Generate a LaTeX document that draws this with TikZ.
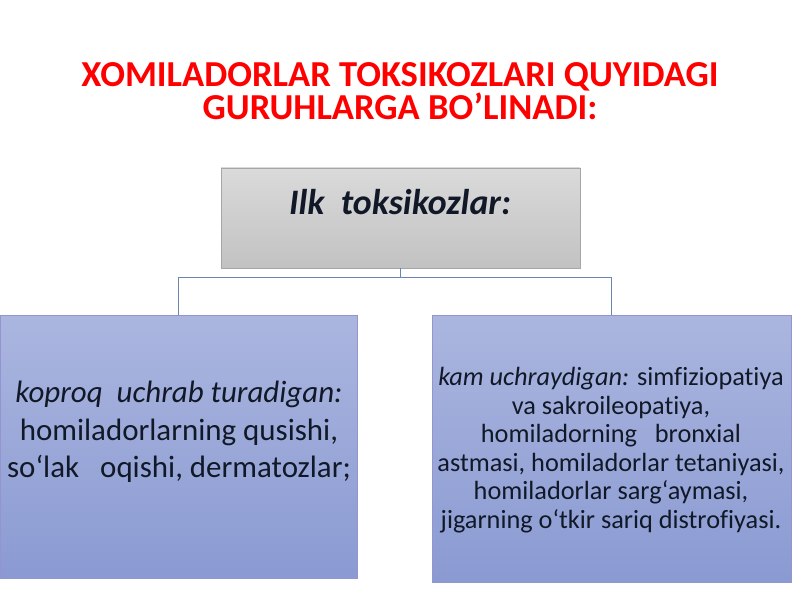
\documentclass[tikz,border=0pt]{standalone}
\usepackage{fontspec}
\setmainfont{Carlito}[Ligatures={TeX,NoCommon}]
\usetikzlibrary{positioning}
\definecolor{titlered}{HTML}{FF0000}
\definecolor{grayTop}{HTML}{DADADA}
\definecolor{grayBot}{HTML}{C2C2C2}
\definecolor{blueTop}{HTML}{ABB6DF}
\definecolor{blueBot}{HTML}{8A9AD2}
\definecolor{linkcol}{HTML}{6A86AE}
\definecolor{textcol}{HTML}{111827}
\tikzset{
  graybox/.style={draw=gray!70, line width=0.6pt, top color=grayTop, bottom color=grayBot},
  bluebox/.style={draw=gray!60!blue!60, line width=0.6pt, top color=blueTop, bottom color=blueBot},
  linkline/.style={draw=linkcol, line width=0.6pt}
}
\newcommand{\tkbox}[5]{\node at (#1) (#2) [#3, minimum width={#4*0.025cm}, minimum height={#5*0.025cm}, inner sep=0pt] {};}
\newcommand{\tktext}[4]{\node at (#1) (#2) [align=center, text=textcol, font=#3] {#4};}
\newcommand{\tklink}[2]{\draw [linkline] (#1.south) -- ++(0,-9) -| (#2.north);}

\begin{document}
\begin{tikzpicture}[x=0.025cm, y=0.025cm]
\useasboundingbox (0,0) rectangle (800,600);

\node at (400,509) (title) [align=center, text=titlered, font=\bfseries\fontsize{26}{23.5}\selectfont]
  {XOMILADORLAR TOKSIKOZLARI QUYIDAGI\\GURUHLARGA BO’LINADI:};

\tkbox {400.5,382} {ilk} {graybox} {359} {100};
\tkbox {178.5,153.5} {koproq} {bluebox} {357} {263};
\tkbox {611.5,151.5} {kam} {bluebox} {359} {267};

\tklink {ilk}{koproq};
\tklink {ilk}{kam};

\tktext {400,398} {ilktext} {\bfseries\itshape\fontsize{25.5}{28}\selectfont} {Ilk\ \ toksikozlar:};
\tktext {179,168} {koproqtext} {\fontsize{22}{26.6}\selectfont}
  {\textit{koproq\ \ uchrab turadigan:}\\homiladorlarning\ qusishi,\\so‘lak\ \ \ oqishi, dermatozlar;};
\tktext {611,150} {kamtext} {\fontsize{18.7}{20.3}\selectfont}
  {\textit{kam uchraydigan:} simfiziopatiya\\va sakroileopatiya,\\homiladorning\ \ \ bronxial\\astmasi, homiladorlar tetaniyasi,\\homiladorlar\ sarg‘aymasi,\\jigarning o‘tkir sariq distrofiyasi.};
\end{tikzpicture}
\end{document}
